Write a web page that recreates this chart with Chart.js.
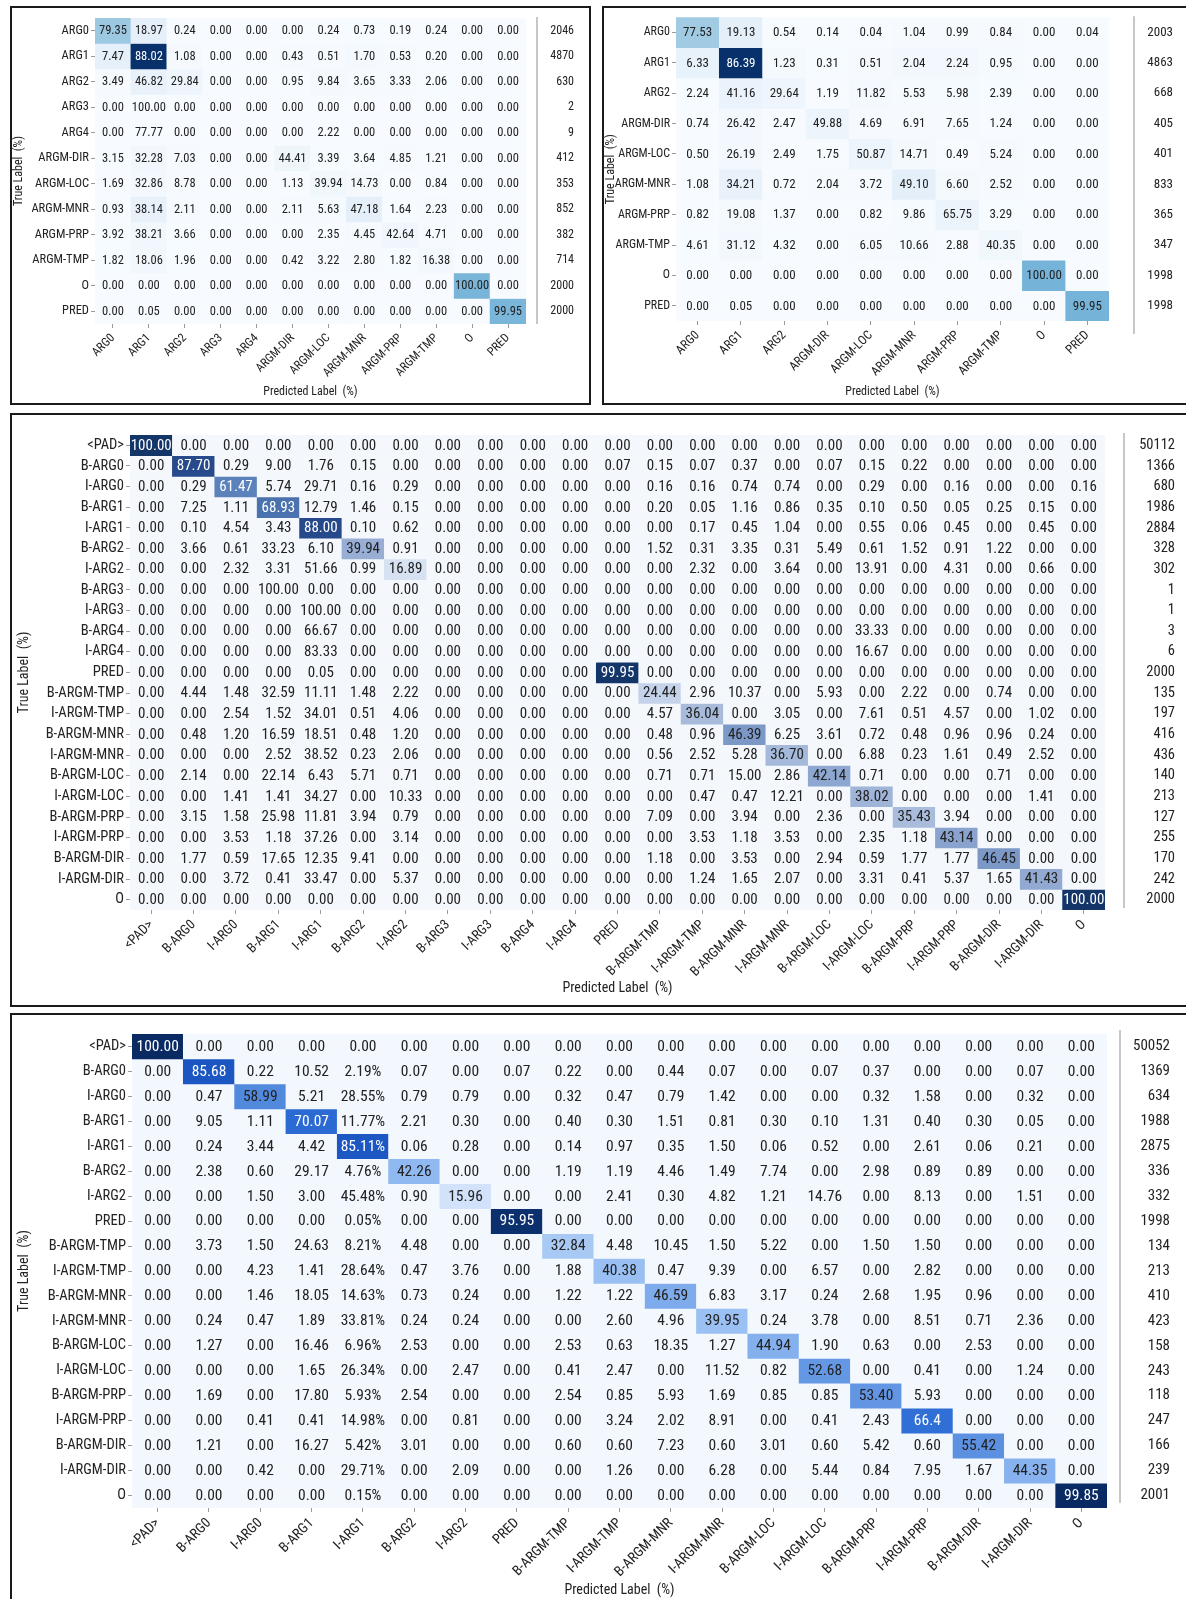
<!DOCTYPE html>
<html>
<head>
<meta charset="utf-8">
<script src="https://cdn.jsdelivr.net/npm/chart.js@4.4.1/dist/chart.umd.min.js"></script>
<style>
  body { margin: 0; background: #fff; width: 1186px; height: 1599px; overflow: hidden; position: relative; }
  .panel { position: absolute; border: 2px solid #1a1a1a; box-sizing: border-box; background: #fff; overflow: hidden; }
  .panel canvas { position: absolute; left: 0; top: 0; }
</style>
</head>
<body>
<div class="panel" style="left:10px;top:6px;width:581px;height:399px"><canvas id="c1" width="577" height="395"></canvas></div>
<div class="panel" style="left:602px;top:6px;width:590px;height:399px"><canvas id="c2" width="586" height="395"></canvas></div>
<div class="panel" style="left:10px;top:413px;width:1180px;height:594px"><canvas id="c3" width="1176" height="590"></canvas></div>
<div class="panel" style="left:10px;top:1013px;width:1180px;height:600px"><canvas id="c4" width="1176" height="596"></canvas></div>

<script>
"use strict";

// matris 1 - 12 klasser
const labels1 = ["ARG0", "ARG1", "ARG2", "ARG3", "ARG4", "ARGM-DIR", "ARGM-LOC", "ARGM-MNR", "ARGM-PRP", "ARGM-TMP", "O", "PRED"];
const rows1 = [
    "79.35 18.97 0.24 0.00 0.00 0.00 0.24 0.73 0.19 0.24 0.00 0.00",
    "7.47 88.02 1.08 0.00 0.00 0.43 0.51 1.70 0.53 0.20 0.00 0.00",
    "3.49 46.82 29.84 0.00 0.00 0.95 9.84 3.65 3.33 2.06 0.00 0.00",
    "0.00 100.00 0.00 0.00 0.00 0.00 0.00 0.00 0.00 0.00 0.00 0.00",
    "0.00 77.77 0.00 0.00 0.00 0.00 2.22 0.00 0.00 0.00 0.00 0.00",
    "3.15 32.28 7.03 0.00 0.00 44.41 3.39 3.64 4.85 1.21 0.00 0.00",
    "1.69 32.86 8.78 0.00 0.00 1.13 39.94 14.73 0.00 0.84 0.00 0.00",
    "0.93 38.14 2.11 0.00 0.00 2.11 5.63 47.18 1.64 2.23 0.00 0.00",
    "3.92 38.21 3.66 0.00 0.00 0.00 2.35 4.45 42.64 4.71 0.00 0.00",
    "1.82 18.06 1.96 0.00 0.00 0.42 3.22 2.80 1.82 16.38 0.00 0.00",
    "0.00 0.00 0.00 0.00 0.00 0.00 0.00 0.00 0.00 0.00 100.00 0.00",
    "0.00 0.05 0.00 0.00 0.00 0.00 0.00 0.00 0.00 0.00 0.00 99.95"
];
const support1 = [2046, 4870, 630, 2, 9, 412, 353, 852, 382, 714, 2000, 2000];

// matris 2 - 10 klasser
const labels2 = ["ARG0", "ARG1", "ARG2", "ARGM-DIR", "ARGM-LOC", "ARGM-MNR", "ARGM-PRP", "ARGM-TMP", "O", "PRED"];
const rows2 = [
    "77.53 19.13 0.54 0.14 0.04 1.04 0.99 0.84 0.00 0.04",
    "6.33 86.39 1.23 0.31 0.51 2.04 2.24 0.95 0.00 0.00",
    "2.24 41.16 29.64 1.19 11.82 5.53 5.98 2.39 0.00 0.00",
    "0.74 26.42 2.47 49.88 4.69 6.91 7.65 1.24 0.00 0.00",
    "0.50 26.19 2.49 1.75 50.87 14.71 0.49 5.24 0.00 0.00",
    "1.08 34.21 0.72 2.04 3.72 49.10 6.60 2.52 0.00 0.00",
    "0.82 19.08 1.37 0.00 0.82 9.86 65.75 3.29 0.00 0.00",
    "4.61 31.12 4.32 0.00 6.05 10.66 2.88 40.35 0.00 0.00",
    "0.00 0.00 0.00 0.00 0.00 0.00 0.00 0.00 100.00 0.00",
    "0.00 0.05 0.00 0.00 0.00 0.00 0.00 0.00 0.00 99.95"
];
const support2 = [2003, 4863, 668, 405, 401, 833, 365, 347, 1998, 1998];

// matris 3 - BIO-taggar, 23 klasser
const labels3 = ["<PAD>", "B-ARG0", "I-ARG0", "B-ARG1", "I-ARG1", "B-ARG2", "I-ARG2", "B-ARG3", "I-ARG3", "B-ARG4", "I-ARG4", "PRED",
    "B-ARGM-TMP", "I-ARGM-TMP", "B-ARGM-MNR", "I-ARGM-MNR", "B-ARGM-LOC", "I-ARGM-LOC", "B-ARGM-PRP", "I-ARGM-PRP", "B-ARGM-DIR", "I-ARGM-DIR", "O"];
const rows3 = [
    "100.00 0.00 0.00 0.00 0.00 0.00 0.00 0.00 0.00 0.00 0.00 0.00 0.00 0.00 0.00 0.00 0.00 0.00 0.00 0.00 0.00 0.00 0.00",
    "0.00 87.70 0.29 9.00 1.76 0.15 0.00 0.00 0.00 0.00 0.00 0.07 0.15 0.07 0.37 0.00 0.07 0.15 0.22 0.00 0.00 0.00 0.00",
    "0.00 0.29 61.47 5.74 29.71 0.16 0.29 0.00 0.00 0.00 0.00 0.00 0.16 0.16 0.74 0.74 0.00 0.29 0.00 0.16 0.00 0.00 0.16",
    "0.00 7.25 1.11 68.93 12.79 1.46 0.15 0.00 0.00 0.00 0.00 0.00 0.20 0.05 1.16 0.86 0.35 0.10 0.50 0.05 0.25 0.15 0.00",
    "0.00 0.10 4.54 3.43 88.00 0.10 0.62 0.00 0.00 0.00 0.00 0.00 0.00 0.17 0.45 1.04 0.00 0.55 0.06 0.45 0.00 0.45 0.00",
    "0.00 3.66 0.61 33.23 6.10 39.94 0.91 0.00 0.00 0.00 0.00 0.00 1.52 0.31 3.35 0.31 5.49 0.61 1.52 0.91 1.22 0.00 0.00",
    "0.00 0.00 2.32 3.31 51.66 0.99 16.89 0.00 0.00 0.00 0.00 0.00 0.00 2.32 0.00 3.64 0.00 13.91 0.00 4.31 0.00 0.66 0.00",
    "0.00 0.00 0.00 100.00 0.00 0.00 0.00 0.00 0.00 0.00 0.00 0.00 0.00 0.00 0.00 0.00 0.00 0.00 0.00 0.00 0.00 0.00 0.00",
    "0.00 0.00 0.00 0.00 100.00 0.00 0.00 0.00 0.00 0.00 0.00 0.00 0.00 0.00 0.00 0.00 0.00 0.00 0.00 0.00 0.00 0.00 0.00",
    "0.00 0.00 0.00 0.00 66.67 0.00 0.00 0.00 0.00 0.00 0.00 0.00 0.00 0.00 0.00 0.00 0.00 33.33 0.00 0.00 0.00 0.00 0.00",
    "0.00 0.00 0.00 0.00 83.33 0.00 0.00 0.00 0.00 0.00 0.00 0.00 0.00 0.00 0.00 0.00 0.00 16.67 0.00 0.00 0.00 0.00 0.00",
    "0.00 0.00 0.00 0.00 0.05 0.00 0.00 0.00 0.00 0.00 0.00 99.95 0.00 0.00 0.00 0.00 0.00 0.00 0.00 0.00 0.00 0.00 0.00",
    "0.00 4.44 1.48 32.59 11.11 1.48 2.22 0.00 0.00 0.00 0.00 0.00 24.44 2.96 10.37 0.00 5.93 0.00 2.22 0.00 0.74 0.00 0.00",
    "0.00 0.00 2.54 1.52 34.01 0.51 4.06 0.00 0.00 0.00 0.00 0.00 4.57 36.04 0.00 3.05 0.00 7.61 0.51 4.57 0.00 1.02 0.00",
    "0.00 0.48 1.20 16.59 18.51 0.48 1.20 0.00 0.00 0.00 0.00 0.00 0.48 0.96 46.39 6.25 3.61 0.72 0.48 0.96 0.96 0.24 0.00",
    "0.00 0.00 0.00 2.52 38.52 0.23 2.06 0.00 0.00 0.00 0.00 0.00 0.56 2.52 5.28 36.70 0.00 6.88 0.23 1.61 0.49 2.52 0.00",
    "0.00 2.14 0.00 22.14 6.43 5.71 0.71 0.00 0.00 0.00 0.00 0.00 0.71 0.71 15.00 2.86 42.14 0.71 0.00 0.00 0.71 0.00 0.00",
    "0.00 0.00 1.41 1.41 34.27 0.00 10.33 0.00 0.00 0.00 0.00 0.00 0.00 0.47 0.47 12.21 0.00 38.02 0.00 0.00 0.00 1.41 0.00",
    "0.00 3.15 1.58 25.98 11.81 3.94 0.79 0.00 0.00 0.00 0.00 0.00 7.09 0.00 3.94 0.00 2.36 0.00 35.43 3.94 0.00 0.00 0.00",
    "0.00 0.00 3.53 1.18 37.26 0.00 3.14 0.00 0.00 0.00 0.00 0.00 0.00 3.53 1.18 3.53 0.00 2.35 1.18 43.14 0.00 0.00 0.00",
    "0.00 1.77 0.59 17.65 12.35 9.41 0.00 0.00 0.00 0.00 0.00 0.00 1.18 0.00 3.53 0.00 2.94 0.59 1.77 1.77 46.45 0.00 0.00",
    "0.00 0.00 3.72 0.41 33.47 0.00 5.37 0.00 0.00 0.00 0.00 0.00 0.00 1.24 1.65 2.07 0.00 3.31 0.41 5.37 1.65 41.43 0.00",
    "0.00 0.00 0.00 0.00 0.00 0.00 0.00 0.00 0.00 0.00 0.00 0.00 0.00 0.00 0.00 0.00 0.00 0.00 0.00 0.00 0.00 0.00 100.00"
];
const support3 = [50112, 1366, 680, 1986, 2884, 328, 302, 1, 1, 3, 6, 2000, 135, 197, 416, 436, 140, 213, 127, 255, 170, 242, 2000];

// matris 4 - BIO-taggar, 19 klasser
const labels4 = ["<PAD>", "B-ARG0", "I-ARG0", "B-ARG1", "I-ARG1", "B-ARG2", "I-ARG2", "PRED", "B-ARGM-TMP", "I-ARGM-TMP",
    "B-ARGM-MNR", "I-ARGM-MNR", "B-ARGM-LOC", "I-ARGM-LOC", "B-ARGM-PRP", "I-ARGM-PRP", "B-ARGM-DIR", "I-ARGM-DIR", "O"];
const rows4 = [
    "100.00 0.00 0.00 0.00 0.00 0.00 0.00 0.00 0.00 0.00 0.00 0.00 0.00 0.00 0.00 0.00 0.00 0.00 0.00",
    "0.00 85.68 0.22 10.52 2.19% 0.07 0.00 0.07 0.22 0.00 0.44 0.07 0.00 0.07 0.37 0.00 0.00 0.07 0.00",
    "0.00 0.47 58.99 5.21 28.55% 0.79 0.79 0.00 0.32 0.47 0.79 1.42 0.00 0.00 0.32 1.58 0.00 0.32 0.00",
    "0.00 9.05 1.11 70.07 11.77% 2.21 0.30 0.00 0.40 0.30 1.51 0.81 0.30 0.10 1.31 0.40 0.30 0.05 0.00",
    "0.00 0.24 3.44 4.42 85.11% 0.06 0.28 0.00 0.14 0.97 0.35 1.50 0.06 0.52 0.00 2.61 0.06 0.21 0.00",
    "0.00 2.38 0.60 29.17 4.76% 42.26 0.00 0.00 1.19 1.19 4.46 1.49 7.74 0.00 2.98 0.89 0.89 0.00 0.00",
    "0.00 0.00 1.50 3.00 45.48% 0.90 15.96 0.00 0.00 2.41 0.30 4.82 1.21 14.76 0.00 8.13 0.00 1.51 0.00",
    "0.00 0.00 0.00 0.00 0.05% 0.00 0.00 95.95 0.00 0.00 0.00 0.00 0.00 0.00 0.00 0.00 0.00 0.00 0.00",
    "0.00 3.73 1.50 24.63 8.21% 4.48 0.00 0.00 32.84 4.48 10.45 1.50 5.22 0.00 1.50 1.50 0.00 0.00 0.00",
    "0.00 0.00 4.23 1.41 28.64% 0.47 3.76 0.00 1.88 40.38 0.47 9.39 0.00 6.57 0.00 2.82 0.00 0.00 0.00",
    "0.00 0.00 1.46 18.05 14.63% 0.73 0.24 0.00 1.22 1.22 46.59 6.83 3.17 0.24 2.68 1.95 0.96 0.00 0.00",
    "0.00 0.24 0.47 1.89 33.81% 0.24 0.24 0.00 0.00 2.60 4.96 39.95 0.24 3.78 0.00 8.51 0.71 2.36 0.00",
    "0.00 1.27 0.00 16.46 6.96% 2.53 0.00 0.00 2.53 0.63 18.35 1.27 44.94 1.90 0.63 0.00 2.53 0.00 0.00",
    "0.00 0.00 0.00 1.65 26.34% 0.00 2.47 0.00 0.41 2.47 0.00 11.52 0.82 52.68 0.00 0.41 0.00 1.24 0.00",
    "0.00 1.69 0.00 17.80 5.93% 2.54 0.00 0.00 2.54 0.85 5.93 1.69 0.85 0.85 53.40 5.93 0.00 0.00 0.00",
    "0.00 0.00 0.41 0.41 14.98% 0.00 0.81 0.00 0.00 3.24 2.02 8.91 0.00 0.41 2.43 66.4 0.00 0.00 0.00",
    "0.00 1.21 0.00 16.27 5.42% 3.01 0.00 0.00 0.60 0.60 7.23 0.60 3.01 0.60 5.42 0.60 55.42 0.00 0.00",
    "0.00 0.00 0.42 0.00 29.71% 0.00 2.09 0.00 0.00 1.26 0.00 6.28 0.00 5.44 0.84 7.95 1.67 44.35 0.00",
    "0.00 0.00 0.00 0.00 0.15% 0.00 0.00 0.00 0.00 0.00 0.00 0.00 0.00 0.00 0.00 0.00 0.00 0.00 99.85"
];
const support4 = [50052, 1369, 634, 1988, 2875, 336, 332, 1998, 134, 213, 410, 423, 158, 243, 118, 247, 166, 239, 2001];

const FONT = "'Roboto Condensed', 'DejaVu Sans Condensed', sans-serif";
Chart.defaults.font.family = FONT;

// färgskalor
const bluesStops = [[0, "#f7fbff"], [0.125, "#deebf7"], [0.25, "#c6dbef"], [0.375, "#9ecae1"], [0.5, "#6baed6"],
    [0.625, "#4292c6"], [0.75, "#2171b5"], [0.875, "#08519c"], [1, "#08306b"]];
const slateStops = [[0, "#f4f7fc"], [0.17, "#d6e1f1"], [0.25, "#c4d2e9"], [0.36, "#a8bbdb"], [0.40, "#98aed5"],
    [0.46, "#7d99c7"], [0.62, "#5a81bb"], [0.69, "#4a72ae"], [0.88, "#26498b"], [1, "#143568"]];
const brightStops = [[0, "#f3f7fe"], [0.16, "#d2e2fb"], [0.33, "#a9c9f5"], [0.40, "#9bc0f3"], [0.45, "#84b0ee"],
    [0.53, "#6397e4"], [0.59, "#5189dd"], [0.66, "#2f6fd6"], [0.86, "#1b56c2"], [0.96, "#0c2f6e"], [1, "#0a2a64"]];

function hexToRgb(h) {
    return [parseInt(h.slice(1, 3), 16), parseInt(h.slice(3, 5), 16), parseInt(h.slice(5, 7), 16)];
}

function ramp(stops, t) {
    t = Math.max(0, Math.min(1, t));
    for (let k = 1; k < stops.length; k++) {
        if (t <= stops[k][0]) {
            const a = stops[k - 1], b = stops[k];
            const f = (t - a[0]) / (b[0] - a[0]);
            const ca = hexToRgb(a[1]), cb = hexToRgb(b[1]);
            return ca.map((v, n) => Math.round(v + (cb[n] - v) * f));
        }
    }
    return hexToRgb(stops[stops.length - 1][1]);
}

function lum(rgb) {
    const c = rgb.map(v => {
        v = v / 255;
        return v <= 0.03928 ? v / 12.92 : Math.pow((v + 0.055) / 1.055, 2.4);
    });
    return 0.2126 * c[0] + 0.7152 * c[1] + 0.0722 * c[2];
}

// ritar en förväxlingsmatris som flytande staplar
function makeMatrix(o) {
    const canvas = document.getElementById(o.id);
    const cells = o.rows.map(r => r.split(" "));
    const vals = cells.map(r => r.map(s => parseFloat(s)));
    const n = o.labels.length;

    let maxCount = 0;
    vals.forEach((r, i) => r.forEach(v => { maxCount = Math.max(maxCount, v * o.support[i]); }));

    const rgb = vals.map((r, i) => r.map((v, j) => {
        const t = o.mode === "count" ? v * o.support[i] / maxCount : (i === j ? v / 100 : 0);
        return ramp(o.stops, t);
    }));
    const textColors = rgb.map(r => r.map(c => lum(c) < 0.23 ? "#ffffff" : "#222222"));

    const datasets = vals.map((r, i) => ({
        data: r.map(() => [i, i + 1]),
        backgroundColor: rgb[i].map(c => "rgb(" + c.join(",") + ")"),
        borderWidth: 0,
        barPercentage: 1,
        categoryPercentage: 1,
        grouped: false
    }));

    const cellText = {
        id: "cellText",
        afterDatasetsDraw(chart) {
            const ctx = chart.ctx;
            ctx.save();
            ctx.font = o.cellFont + "px " + FONT;
            ctx.textAlign = "center";
            ctx.textBaseline = "middle";
            chart.data.datasets.forEach((ds, i) => {
                chart.getDatasetMeta(i).data.forEach((bar, j) => {
                    ctx.fillStyle = textColors[i][j];
                    ctx.fillText(cells[i][j], bar.x, (bar.y + bar.base) / 2 + 0.5);
                });
            });
            const a = chart.chartArea;
            ctx.strokeStyle = "#b4b4b4";
            ctx.lineWidth = 1.5;
            ctx.beginPath();
            ctx.moveTo(a.right + o.sepGap, a.top + o.sepTop);
            ctx.lineTo(a.right + o.sepGap, a.bottom + o.sepBottom);
            ctx.stroke();
            ctx.restore();
        }
    };

    const tickGrid = { display: true, drawOnChartArea: false, drawTicks: true, tickLength: 4, color: "#9a9a9a", offset: false };
    const rowTicks = s => { s.ticks = o.labels.map((_, i) => ({ value: i + 0.5 })); };

    new Chart(canvas, {
        type: "bar",
        data: { labels: o.labels, datasets: datasets },
        options: {
            responsive: false,
            animation: false,
            layout: { padding: { top: o.padTop, bottom: o.padBottom, left: o.padLeft, right: canvas.width - o.areaRight - o.supRight } },
            plugins: { legend: { display: false }, tooltip: { enabled: false } },
            scales: {
                x: {
                    type: "category",
                    offset: true,
                    grid: tickGrid,
                    border: { display: false },
                    ticks: { autoSkip: false, maxRotation: 45, minRotation: 45, padding: o.xPad, color: "#222", font: { size: o.xFont } },
                    title: { display: true, text: "Predicted Label  (%)", color: "#222", font: { size: o.titleFont }, padding: 0 },
                    afterFit: s => { s.height = o.xH; }
                },
                y: {
                    type: "linear",
                    min: 0,
                    max: n,
                    reverse: true,
                    afterBuildTicks: rowTicks,
                    grid: tickGrid,
                    border: { display: false },
                    ticks: { autoSkip: false, padding: 2, color: "#222", font: { size: o.yFont }, callback: (v, i) => o.labels[i] },
                    title: { display: true, text: "True Label  (%)", color: "#222", font: { size: o.titleFont }, padding: 0 },
                    afterFit: s => { s.width = o.yW; }
                },
                y2: {
                    type: "linear",
                    position: "right",
                    min: 0,
                    max: n,
                    reverse: true,
                    afterBuildTicks: rowTicks,
                    grid: { display: false, drawTicks: false },
                    border: { display: false },
                    ticks: { autoSkip: false, crossAlign: "far", padding: 0, color: "#222",
                        font: { size: o.supFont }, callback: (v, i) => String(o.support[i]) },
                    afterFit: s => { s.width = o.supRight; }
                }
            }
        },
        plugins: [cellText]
    });
}

makeMatrix({ id: "c1", labels: labels1, rows: rows1, support: support1, mode: "count", stops: bluesStops,
    padTop: 10, padBottom: 4, padLeft: 0, yW: 83, areaRight: 514, xH: 75, sepGap: 11, sepTop: -1, sepBottom: 0, supRight: 48,
    cellFont: 12.5, yFont: 12.5, xFont: 12, xPad: 3, titleFont: 12, supFont: 12 });

makeMatrix({ id: "c2", labels: labels2, rows: rows2, support: support2, mode: "count", stops: bluesStops,
    padTop: 7, padBottom: 4, padLeft: 0, yW: 72, areaRight: 505, xH: 78, sepGap: 25, sepTop: -1, sepBottom: 13, supRight: 64,
    cellFont: 13, yFont: 12, xFont: 12.5, xPad: 3, titleFont: 12, supFont: 13 });

makeMatrix({ id: "c3", labels: labels3, rows: rows3, support: support3, mode: "diag", stops: slateStops,
    padTop: 20, padBottom: 8, padLeft: 4, yW: 114, areaRight: 1093, xH: 87, sepGap: 19, sepTop: -2, sepBottom: -2, supRight: 70,
    cellFont: 15, yFont: 14.5, xFont: 13.5, xPad: 3, titleFont: 14, supFont: 14.5 });

makeMatrix({ id: "c4", labels: labels4, rows: rows4, support: support4, mode: "diag", stops: brightStops,
    padTop: 19, padBottom: 12, padLeft: 4, yW: 116, areaRight: 1095, xH: 91, sepGap: 13, sepTop: -4, sepBottom: -5, supRight: 63,
    cellFont: 15.5, yFont: 14.5, xFont: 14, xPad: 3, titleFont: 14, supFont: 15 });
</script>
</body>
</html>
